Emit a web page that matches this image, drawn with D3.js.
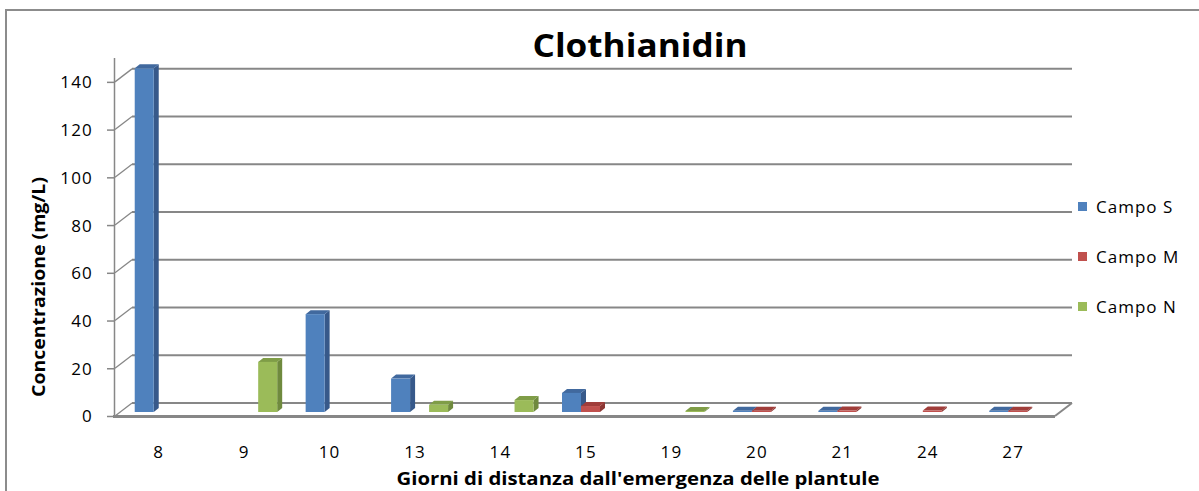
<!DOCTYPE html>
<html>
<head>
<meta charset="utf-8">
<script src="https://cdn.jsdelivr.net/npm/d3@7"></script>
<style>
  body { margin: 0; background: #fff; }
  text { font-family: "Open Sans", sans-serif; fill: #000; }
</style>
</head>
<body>
<script>
var categories = ['8', '9', '10', '13', '14', '15', '19', '20', '21', '24', '27'];
var seriesNames = ['Campo S', 'Campo M', 'Campo N'];
var campoS = [144, null, 41, 14, null, 8, null, 0.5, 0.5, null, 0.5];
var campoM = [null, null, null, null, null, 2.5, null, 0.5, 0.6, 0.6, 0.5];
var campoN = [null, 21, null, 3, 5, null, 0.3, null, null, null, null];
var yTicks = [0, 20, 40, 60, 80, 100, 120, 140];

var colors = {
  'Campo S': {front: '#4f81bd', side: '#37598a', top: '#41699e'},
  'Campo M': {front: '#c0504d', side: '#8c3633', top: '#a03d3a'},
  'Campo N': {front: '#9bbb59', side: '#6f8a3e', top: '#7f9d47'}
};

var W = 1199, H = 491;
var depth = {dx: 17, dy: -13};   // back wall offset
var barShift = {dx: 5.5, dy: -4}; // bars sit a bit behind the front edge
var cap = {dx: 5, dy: -4};        // bar thickness in 3d

var svg = d3.select('body').append('svg')
    .attr('width', W)
    .attr('height', H);

// outer frame
svg.append('rect')
    .attr('x', 6).attr('y', 10)
    .attr('width', W + 20).attr('height', H + 20)
    .attr('fill', 'none')
    .attr('stroke', '#8c8c8c')
    .attr('stroke-width', 2);

var x = d3.scaleBand()
    .domain(categories)
    .range([115, 1055]);
var x1 = d3.scaleBand()
    .domain(seriesNames)
    .range([-28.5, 28.5]);
var y = d3.scaleLinear()
    .domain([0, 150])
    .range([416, 58]);

// back wall gridlines + diagonal ticks
var grid = svg.append('g');
grid.selectAll('line.grid')
    .data(yTicks)
    .enter().append('line')
    .attr('class', 'grid')
    .attr('x1', 115 + depth.dx)
    .attr('x2', 1055 + depth.dx)
    .attr('y1', function(d) { return y(d) + depth.dy; })
    .attr('y2', function(d) { return y(d) + depth.dy; })
    .attr('stroke', '#878787')
    .attr('stroke-width', 2);
grid.selectAll('line.diag')
    .data(yTicks)
    .enter().append('line')
    .attr('class', 'diag')
    .attr('x1', 115)
    .attr('x2', 115 + depth.dx)
    .attr('y1', function(d) { return y(d); })
    .attr('y2', function(d) { return y(d) + depth.dy; })
    .attr('stroke', '#878787')
    .attr('stroke-width', 1.3);

// floor
svg.append('line')
    .attr('x1', 1055).attr('y1', y(0))
    .attr('x2', 1055 + depth.dx).attr('y2', y(0) + depth.dy)
    .attr('stroke', '#878787').attr('stroke-width', 2);
svg.append('line')
    .attr('x1', 113).attr('y1', y(0) + 0.5)
    .attr('x2', 1055).attr('y2', y(0) + 0.5)
    .attr('stroke', '#878787').attr('stroke-width', 3);

// y axis
var yAxis = d3.axisLeft(y)
    .tickValues(yTicks)
    .tickSize(8)
    .tickPadding(6);
var gy = svg.append('g')
    .attr('transform', 'translate(115,0)')
    .call(yAxis);
gy.select('.domain')
    .attr('stroke', '#878787')
    .attr('stroke-width', 1.5)
    .attr('d', 'M-0.5,' + y(0) + 'V' + y(150));
gy.selectAll('.tick line').attr('stroke', '#878787').attr('stroke-width', 1.5);
gy.selectAll('.tick text')
    .attr('font-size', 17)
    .attr('letter-spacing', 1.2)
    .attr('x', -22)
    .attr('dy', '0.35em')
    .style('font-family', '"Open Sans", sans-serif')
    .attr('fill', '#000');

// x axis labels
svg.append('g').selectAll('text')
    .data(categories)
    .enter().append('text')
    .attr('x', function(d) { return x(d) + x.bandwidth() / 2 + 1; })
    .attr('y', 458)
    .attr('text-anchor', 'middle')
    .attr('font-size', 17)
    .attr('letter-spacing', 1.2)
    .text(function(d) { return d; });

// bars
var bars = [];
categories.forEach(function(c, i) {
  [campoS, campoM, campoN].forEach(function(arr, j) {
    if (arr[i] != null) bars.push({cat: c, series: seriesNames[j], value: arr[i]});
  });
});

var bg = svg.append('g');
var bar = bg.selectAll('g.bar')
    .data(bars)
    .enter().append('g')
    .attr('class', 'bar');

function geom(d) {
  var x0 = x(d.cat) + x.bandwidth() / 2 + x1(d.series) + barShift.dx;
  var w = x1.bandwidth();
  var y0 = y(0) + barShift.dy;
  var yt = y(0) + barShift.dy - (y(0) - y(d.value));
  return {x0: x0, w: w, y0: y0, yt: Math.min(yt, y0 - 1)};
}

bar.append('path') // side face
    .attr('d', function(d) {
      var g = geom(d);
      var xr = g.x0 + g.w;
      return 'M' + xr + ',' + g.y0 + 'L' + (xr + cap.dx) + ',' + (g.y0 + cap.dy) +
        'L' + (xr + cap.dx) + ',' + (g.yt + cap.dy) + 'L' + xr + ',' + g.yt + 'Z';
    })
    .attr('fill', function(d) { return colors[d.series].side; });
bar.append('path') // top face
    .attr('d', function(d) {
      var g = geom(d);
      return 'M' + g.x0 + ',' + g.yt + 'L' + (g.x0 + cap.dx) + ',' + (g.yt + cap.dy) +
        'L' + (g.x0 + g.w + cap.dx) + ',' + (g.yt + cap.dy) + 'L' + (g.x0 + g.w) + ',' + g.yt + 'Z';
    })
    .attr('fill', function(d) { return colors[d.series].top; });
bar.append('rect') // front face
    .attr('x', function(d) { return geom(d).x0; })
    .attr('y', function(d) { return geom(d).yt; })
    .attr('width', function(d) { return geom(d).w; })
    .attr('height', function(d) { var g = geom(d); return g.y0 - g.yt; })
    .attr('fill', function(d) { return colors[d.series].front; });

// title
svg.append('text')
    .attr('x', 640)
    .attr('y', 57)
    .attr('text-anchor', 'middle')
    .attr('font-size', 32)
    .attr('font-weight', 'bold')
    .attr('textLength', 215)
    .attr('lengthAdjust', 'spacingAndGlyphs')
    .text('Clothianidin');

// axis titles
svg.append('text')
    .attr('transform', 'translate(45,287) rotate(-90)')
    .attr('text-anchor', 'middle')
    .attr('font-size', 17)
    .attr('font-weight', 'bold')
    .attr('textLength', 220)
    .attr('lengthAdjust', 'spacingAndGlyphs')
    .text('Concentrazione (mg/L)');
svg.append('text')
    .attr('x', 638)
    .attr('y', 485)
    .attr('text-anchor', 'middle')
    .attr('font-size', 18)
    .attr('font-weight', 'bold')
    .attr('textLength', 483)
    .attr('lengthAdjust', 'spacingAndGlyphs')
    .text("Giorni di distanza dall'emergenza delle plantule");

// legend
var legendY = d3.scalePoint()
    .domain(seriesNames)
    .range([207, 307]);
var lg = svg.append('g').selectAll('g')
    .data(seriesNames)
    .enter().append('g')
    .attr('transform', function(d) { return 'translate(1078,' + legendY(d) + ')'; });
lg.append('rect')
    .attr('x', 0).attr('y', -5)
    .attr('width', 9).attr('height', 9)
    .attr('fill', function(d) { return colors[d].front; });
lg.append('text')
    .attr('x', 18)
    .attr('y', 6)
    .attr('font-size', 17)
    .attr('letter-spacing', 1)
    .text(function(d) { return d; });
</script>
</body>
</html>
